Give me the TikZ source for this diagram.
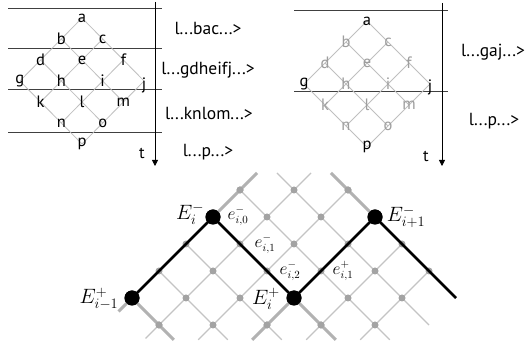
\documentclass[tikz,border=0pt]{standalone}
\usepackage{fontspec}
\setsansfont{PT Sans}
\usetikzlibrary{arrows.meta}
\tikzset{
 hline/.style={draw=black!75, line width=0.8pt},
 axisline/.style={draw=black, line width=0.8pt, -{Triangle[length=6pt,width=6pt]}},
 latline/.style={draw=black!25, line width=0.8pt},
 ltr/.style={font=\sffamily\fontsize{16.5}{16.5}\selectfont, inner sep=0pt},
 ltrg/.style={ltr, text=black!38},
 ket/.style={font=\sffamily\fontsize{17.5}{17.5}\selectfont, inner sep=0pt},
 gridline/.style={draw=black!23, line width=1.1pt},
 thickgray/.style={draw=black!30, line width=3pt},
 gdot/.style={circle, fill=black!36, inner sep=0pt, minimum size=7pt},
 bdot/.style={circle, fill=black, inner sep=0pt, minimum size=15pt},
 bpath/.style={draw=black, line width=2.6pt},
 Elbl/.style={font=\fontsize{21}{21}\selectfont, inner sep=0pt},
 elbl/.style={font=\fontsize{16}{16}\selectfont, inner sep=0pt},
}
\begin{document}
\begin{tikzpicture}[x=1pt,y=-1pt]
\useasboundingbox[fill=white] (0,0) rectangle (528,352);

% ---------- top left diagram ----------
\foreach \yy in {8,48,89,132} \draw[hline] (8,\yy) -- (162,\yy);
\coordinate (Lt0) at (155,2);
\coordinate (Lt1) at (155,166);
\draw[axisline] (Lt0) -- (Lt1);
\node[ltr] (Lt) at (142,153) {t};

\begin{scope}[shift={(82pt,-18pt)}, x=20.7pt, y=-21pt]
 \coordinate (La) at (0,0);
 \coordinate (Lb) at (-1,1);  \coordinate (Lc) at (1,1);
 \coordinate (Ld) at (-2,2);  \coordinate (Le) at (0,2);  \coordinate (Lf) at (2,2);
 \coordinate (Lg) at (-3,3);  \coordinate (Lh) at (-1,3); \coordinate (Li) at (1,3); \coordinate (Lj) at (3,3);
 \coordinate (Lk) at (-2,4);  \coordinate (Ll) at (0,4);  \coordinate (Lm) at (2,4);
 \coordinate (Ln) at (-1,5);  \coordinate (Lo) at (1,5);
 \coordinate (Lp) at (0,6);
\end{scope}
\draw[latline] (La) -- (Lg) (Lc) -- (Lk) (Lf) -- (Ln) (Lj) -- (Lp)
               (La) -- (Lj) (Lb) -- (Lm) (Ld) -- (Lo) (Lg) -- (Lp);
\foreach \n in {a,b,c,d,e,f,g,h,i,k,l,m,n,o,p}
  \node[ltr] (lt\n) at (L\n) {\n};
\node[ltr, yshift=-4pt] (ltj) at (Lj) {j};

\node[ket] (k1) at (208,28) {l...bac...>};
\node[ket] (k2) at (208,70) {l...gdheifj...>};
\node[ket] (k3) at (209,113) {l...knlom...>};
\node[ket] (k4) at (208,152) {l...p...>};

% ---------- top right diagram ----------
\foreach \yy in {10,91} \draw[hline] (294,\yy) -- (448,\yy);
\coordinate (Rt0) at (442,3);
\coordinate (Rt1) at (442,166);
\draw[axisline] (Rt0) -- (Rt1);
\node[ltr] (Rt) at (426,156) {t};

\begin{scope}[shift={(367pt,-21pt)}, x=21pt, y=-21pt]
 \coordinate (Ra) at (0,0);
 \coordinate (Rb) at (-1,1);  \coordinate (Rc) at (1,1);
 \coordinate (Rd) at (-2,2);  \coordinate (Re) at (0,2);  \coordinate (Rf) at (2,2);
 \coordinate (Rg) at (-3,3);  \coordinate (Rh) at (-1,3); \coordinate (Ri) at (1,3); \coordinate (Rj) at (3,3);
 \coordinate (Rk) at (-2,4);  \coordinate (Rl) at (0,4);  \coordinate (Rm) at (2,4);
 \coordinate (Rn) at (-1,5);  \coordinate (Ro) at (1,5);
 \coordinate (Rp) at (0,6);
\end{scope}
\draw[latline] (Ra) -- (Rg) (Rc) -- (Rk) (Rf) -- (Rn) (Rj) -- (Rp)
               (Ra) -- (Rj) (Rb) -- (Rm) (Rd) -- (Ro) (Rg) -- (Rp);
\foreach \n in {b,c,d,e,f,h,i,k,l,m,n,o}
  \node[ltrg] (rt\n) at (R\n) {\n};
\foreach \n in {a,g,p}
  \node[ltr] (rt\n) at (R\n) {\n};
\node[ltr, yshift=-3pt] (rtj) at (Rj) {j};

\node[ket] (k5) at (493,52) {l...gaj...>};
\node[ket] (k6) at (494,121) {l...p...>};

% ---------- bottom diagram ----------
\begin{scope}[shift={(213pt,-217pt)}, x=27pt, y=-27pt]
 % thin lattice lines, direction (1,1)
 \draw[gridline] (-2,2) -- (0.55,4.55);
 \draw[gridline] (-1,1) -- (2.55,4.55);
 \draw[gridline] (1,-1) -- (6.55,4.55);
 \draw[gridline] (2.37,-1.63) -- (8,4);
 \draw[gridline] (-3,3) -- (-1.45,4.55);
 % thin lattice lines, direction (-1,1)
 \draw[gridline] (3.63,-1.63) -- (-2.5,4.5);
 \draw[gridline] (5,-1) -- (-0.55,4.55);
 \draw[gridline] (7,1) -- (3.45,4.55);
 \draw[gridline] (8,2) -- (5.45,4.55);
 \draw[gridline] (3,3) -- (1.45,4.55);
 % light-cone ends
 \coordinate (Ta) at (1.63,-1.63);
 \coordinate (Tb) at (4.37,-1.63);
 \coordinate (Tc) at (-1.45,4.55);
 \coordinate (Td) at (1.45,4.55);
 \coordinate (Te) at (4.55,4.55);
 \coordinate (Tf) at (-3.5,3.5);
 \coordinate (PathEnd) at (9,3);
 \foreach \p [count=\k] in {(1,-1),(3,-1),(5,-1),(2,0),(4,0),
   (-1,1),(1,1),(3,1),(5,1),(7,1),
   (-2,2),(0,2),(2,2),(4,2),(6,2),(8,2),
   (-1,3),(1,3),(5,3),(7,3),
   (-2,4),(0,4),(2,4),(4,4),(6,4)}
   \node[gdot] (gd\k) at \p {};
 \node[bdot] (Eim) at (0,0) {};
 \node[bdot] (Eip) at (3,3) {};
 \node[bdot] (Ejm) at (6,0) {};
 \node[bdot] (Ehp) at (-3,3) {};
\end{scope}
\draw[thickgray] (Eim.center) -- (Ta);
\draw[thickgray] (Ejm.center) -- (Tb);
\draw[thickgray] (Ehp.center) -- (Tc);
\draw[thickgray] (Ehp.center) -- (Tf);
\draw[thickgray] (Eip.center) -- (Td);
\draw[thickgray] (Eip.center) -- (Te);
\foreach \k in {1,3,21,23,24}
  \node[gdot] at (gd\k) {};
\draw[bpath, line join=miter] (Ehp.center) -- (Eim.center) -- (Eip.center) -- (Ejm.center) -- (PathEnd);
\node[bdot] at (Eim) {};
\node[bdot] at (Eip) {};
\node[bdot] at (Ejm) {};
\node[bdot] at (Ehp) {};

\node[Elbl] (lEim) at (190,214) {$E_i^-$};
\node[Elbl] (lEip) at (266,299) {$E_i^+$};
\node[Elbl] (lEjm) at (406,217) {$E_{i+1}^-$};
\node[Elbl] (lEhp) at (99,299) {$E_{i-1}^+$};
\node[elbl] (le0) at (238,216) {$e_{i,0}^-$};
\node[elbl] (le1) at (265,244) {$e_{i,1}^-$};
\node[elbl] (le2) at (290,271) {$e_{i,2}^-$};
\node[elbl] (lep) at (343,271) {$e_{i,1}^+$};
\end{tikzpicture}
\end{document}
